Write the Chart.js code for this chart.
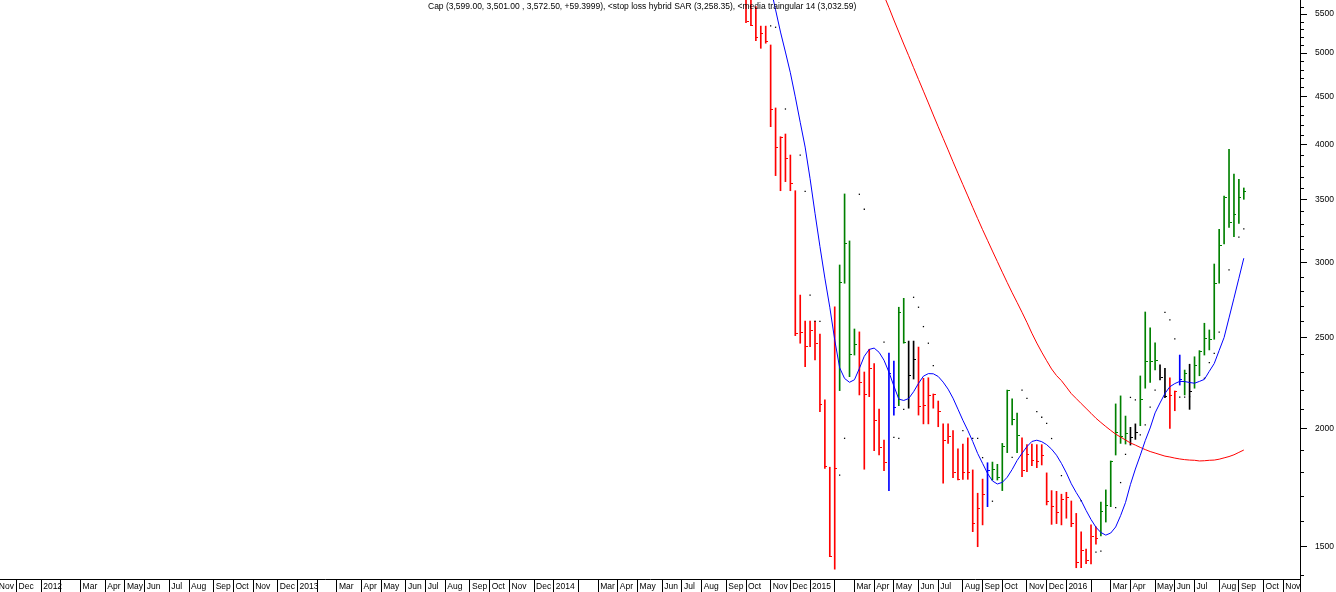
<!DOCTYPE html>
<html>
<head>
<meta charset="utf-8">
<script src="https://cdn.jsdelivr.net/npm/chart.js@4.4.0/dist/chart.umd.min.js"></script>
<style>
  html, body { margin: 0; padding: 0; background: #fff; }
</style>
</head>
<body>
<canvas id="chart" width="1336" height="592"></canvas>
<script>
// weekly bars, one every Friday starting here
const firstWeek = '2014-10-03';

const highs = [5750, 5720, 5600, 5340, 5340, 5100, 4374, 4078, 4105, 3900,
  3575, 2772, 2602, 2602, 2602, 2521, 2147, 1822, 2694, 2983,
  3547, 3163, 2552, 2534, 2298, 2429, 2345, 2100, 1947, 2407,
  2360, 2691, 2750, 2478, 2478, 2442, 2263, 2266, 2178, 2141,
  2025, 2025, 1992, 1905, 1928, 1957, 1810, 1710, 1770, 1842,
  1845, 1835, 1931, 2199, 2152, 2079, 1957, 1925, 1928, 1925,
  1925, 1797, 1721, 1718, 1706, 1714, 1678, 1628, 1556, 1492,
  1583, 1576, 1674, 1724, 1850, 2126, 2168, 2064, 2008, 2025,
  2276, 2660, 2560, 2468, 2338, 2319, 2266, 2194, 2395, 2309,
  2342, 2385, 2421, 2588, 2546, 2990, 3254, 3529, 3955, 3724,
  3676, 3599];

const lows = [5385, 5346, 5154, 5059, 5122, 4179, 3709, 3575, 3655, 3575,
  2511, 2465, 2328, 2444, 2367, 2086, 1817, 1465, 1421, 2196,
  2853, 2272, 2395, 2173, 1813, 2164, 1897, 1877, 1807, 1721,
  2069, 2117, 2465, 2104, 2259, 2069, 2025, 2025, 2104, 2011,
  1752, 1931, 1776, 1766, 1769, 1769, 1557, 1501, 1583, 1655,
  1766, 1766, 1721, 1888, 2020, 1888, 1780, 1802, 1829, 1820,
  1832, 1662, 1585, 1588, 1583, 1609, 1576, 1426, 1426, 1440,
  1439, 1510, 1541, 1594, 1655, 1877, 1931, 1928, 1923, 1950,
  2016, 2209, 2241, 2309, 2254, 2159, 2003, 2091, 2226, 2173,
  2098, 2209, 2277, 2395, 2425, 2489, 2853, 3140, 3270, 3196,
  3302, 3501];

const closes = [5400, 5350, 5200, 5248, 5141, 4363, 3970, 4068, 3865, 3640,
  2525, 2532, 2448, 2544, 2465, 2124, 1827, 1467, 1817, 2860,
  3140, 2401, 2460, 2239, 2177, 2315, 2044, 1913, 1845, 2287,
  2107, 2658, 2468, 2276, 2370, 2115, 2120, 2168, 2173, 2088,
  1946, 1963, 1800, 1769, 1800, 1798, 1589, 1648, 1703, 1807,
  1814, 1778, 1916, 2198, 2048, 1968, 1808, 1880, 1853, 1847,
  1874, 1674, 1655, 1632, 1686, 1693, 1589, 1443, 1489, 1453,
  1538, 1532, 1635, 1661, 1847, 1982, 1963, 1976, 1961, 1982,
  2147, 2357, 2357, 2366, 2269, 2164, 2168, 2194, 2254, 2291,
  2190, 2332, 2415, 2495, 2485, 2853, 3130, 3515, 3307, 3370,
  3515, 3572.5];

// bar colour state of the hybrid system: r red, g green, k black, b blue
const trend = [...('rrrrrrrrrrrrrrrrrrr' + 'gggg' + 'rrrrrr' + 'bb' + 'gg' + 'kk' +
  'rrrrrrrrrrrrrr' + 'b' + 'gggggg' + 'rrrrrrrrrrrrrrrr' + 'gggggg' + 'kk' +
  'gggg' + 'kk' + 'rr' + 'b' + 'g' + 'k' + 'ggggggggggg')];

const sar = [null, null, null, null, null, 5342, 5325, null, 4363, null,
  null, 3900, 3570, 2771, 2600, 2600, null, null, null, 1787,
  1955, null, null, 3544, 3417, null, null, null, 2471, null,
  1960, 1955, 2098, null, 2757, 2691, 2567, 2465, 2334, null,
  null, null, null, null, 1992, null, 1955, 1955, 1865, null,
  1677, null, null, null, 1866, null, 2199, 2155, null, 2086,
  2058, 2028, 1954, null, 1785, null, null, null, 1679, null,
  null, 1481, 1485, null, null, 1651, 1755, 1880, 2160, 2147,
  1971, 2020, 2110, 2199, null, 2658, 2609, 2491, 2161, 2161,
  2164, null, null, 2263, 2351, 2405, 2532, null, 2947, null,
  3192, 3258.35];

const triMa14 = [null, null, null, 6540, 6193, 5869, 5556, 5263, 5013, 4766,
  4494, 4224, 3976, 3681, 3384, 3121, 2889, 2691, 2485, 2322,
  2262, 2241, 2255, 2318, 2388, 2428, 2436, 2411, 2365, 2297,
  2221, 2151, 2144, 2154, 2190, 2235, 2275, 2289, 2288, 2273,
  2242, 2204, 2156, 2099, 2043, 1993, 1940, 1884, 1839, 1795,
  1762, 1749, 1756, 1778, 1812, 1852, 1885, 1916, 1940, 1946,
  1939, 1925, 1904, 1876, 1839, 1797, 1750, 1713, 1680, 1640,
  1604, 1574, 1554, 1544, 1552, 1575, 1619, 1672, 1747, 1814,
  1876, 1944, 2005, 2080, 2131, 2181, 2217, 2234, 2246, 2245,
  2240, 2236, 2246, 2257, 2302, 2346, 2422, 2500, 2622, 2751,
  2888, 3032.59];

const slowMa = [null, null, null, null, null, null, null, null, null, null,
  null, null, null, null, null, null, null, null, null, null,
  null, null, null, null, null, null, 6102, 5925, 5752, 5587,
  5420, 5264, 5112, 4969, 4826, 4689, 4557, 4428, 4300, 4178,
  4062, 3949, 3837, 3731, 3629, 3530, 3433, 3340, 3251, 3168,
  3086, 3008, 2931, 2858, 2788, 2723, 2658, 2593, 2526, 2466,
  2412, 2362, 2315, 2278, 2250, 2215, 2180, 2154, 2128, 2103,
  2078, 2053, 2032, 2012, 1993, 1975, 1961, 1947, 1933, 1923,
  1912, 1902, 1893, 1886, 1879, 1872, 1868, 1863, 1859, 1856,
  1854, 1853, 1850, 1851, 1853, 1854, 1858, 1864, 1870, 1878,
  1889, 1900];

const yTicks = [1500, 2000, 2500, 3000, 3500, 4000, 4500, 5000, 5500];
// January shows the year, February is left blank
const monthTickLabels = ['', '', 'Mar', 'Apr', 'May', 'Jun', 'Jul', 'Aug', 'Sep', 'Oct', 'Nov', 'Dec'];
const titleText = 'Cap (3,599.00, 3,501.00 , 3,572.50, +59.3999), <stop loss hybrid SAR (3,258.35), <media traingular 14 (3,032.59)';

const DAY = 86400000;
const dayOf = s => Date.parse(s + 'T00:00:00Z') / DAY;
const start = dayOf(firstWeek);
const weekX = highs.map((_, i) => start + 7 * i);

const xMin = 15286.5;
const xMax = 17132.8;
const yMin = 1387.4;
const yMax = 5691;

const palette = { r: '#ff0000', g: '#008000', k: '#000000', b: '#0000ff' };
const barColors = trend.map(t => palette[t]);

// one tick per month, on the first Friday (first weekly bar) of the month
const xTickValues = [];
const xTickLabels = [];
for (let y = 2011, m = 10; y < 2016 || (y === 2016 && m <= 10); m++) {
  if (m === 12) { m = 0; y++; }
  const d = Date.UTC(y, m, 1);
  const dow = new Date(d).getUTCDay();
  xTickValues.push(d / DAY + (5 - dow + 7) % 7);
  xTickLabels.push(m === 0 ? String(y) : monthTickLabels[m]);
}
xTickValues.push(xMax);
xTickLabels.push('');

// small right-hand close ticks
function closeMark(color) {
  const c = document.createElement('canvas');
  c.width = 5;
  c.height = 1;
  const g = c.getContext('2d');
  g.fillStyle = color;
  g.fillRect(3, 0, 2, 1);
  return c;
}
const closeMarks = {};
Object.keys(palette).forEach(k => { closeMarks[k] = closeMark(palette[k]); });

const font = { family: '"Liberation Sans", Arial, sans-serif', size: 8.5 };

const overlay = {
  id: 'overlay',
  beforeDatasetsDraw(chart) {
    chart.ctx.imageSmoothingEnabled = false;
  },
  afterDraw(chart) {
    const ctx = chart.ctx;
    const ys = chart.scales.y;
    ctx.save();
    // minor ticks every 100 on the price axis
    ctx.strokeStyle = '#000';
    ctx.lineWidth = 1;
    ctx.beginPath();
    for (let v = 1400; v <= 5600; v += 100) {
      if (v % 500 === 0) continue;
      const py = Math.round(ys.getPixelForValue(v)) + 0.5;
      ctx.moveTo(ys.left, py);
      ctx.lineTo(ys.left + 4, py);
    }
    ctx.stroke();
    ctx.fillStyle = '#000';
    ctx.font = '8.5px "Liberation Sans", Arial, sans-serif';
    ctx.textAlign = 'left';
    ctx.textBaseline = 'middle';
    ctx.fillText(titleText, 428, 7);
    ctx.restore();
  }
};

new Chart(document.getElementById('chart'), {
  type: 'bar',
  data: {
    datasets: [
      {
        type: 'line',
        data: triMa14.map((v, i) => ({ x: weekX[i], y: v })),
        borderColor: '#0000ff',
        borderWidth: 1,
        pointRadius: 0,
        spanGaps: false,
        order: 0
      },
      {
        type: 'line',
        data: slowMa.map((v, i) => ({ x: weekX[i], y: v })),
        borderColor: '#ff0000',
        borderWidth: 1,
        pointRadius: 0,
        spanGaps: false,
        order: 1
      },
      {
        type: 'scatter',
        data: sar.map((v, i) => ({ x: weekX[i], y: v })),
        pointStyle: 'rect',
        pointRadius: 0.9,
        borderWidth: 0,
        backgroundColor: '#000',
        order: 2
      },
      {
        type: 'scatter',
        data: closes.map((v, i) => ({ x: weekX[i], y: v })),
        pointStyle: ctx => closeMarks[trend[ctx.dataIndex]],
        pointRadius: 1,
        borderWidth: 0,
        order: 3
      },
      {
        type: 'bar',
        data: highs.map((h, i) => ({ x: weekX[i], y: [lows[i], h] })),
        backgroundColor: barColors,
        borderWidth: 0,
        barThickness: 1,
        order: 4
      }
    ]
  },
  options: {
    responsive: false,
    animation: false,
    events: [],
    layout: { padding: 0, autoPadding: false },
    plugins: {
      legend: { display: false },
      tooltip: { enabled: false },
      title: { display: false }
    },
    scales: {
      x: {
        type: 'linear',
        min: xMin,
        max: xMax,
        offset: false,
        grid: { drawOnChartArea: false, tickLength: 13, color: '#000', offset: false },
        border: { color: '#000' },
        ticks: {
          autoSkip: false,
          maxRotation: 0,
          minRotation: 0,
          align: 'start',
          labelOffset: 2,
          padding: -10,
          color: '#000',
          font: font,
          callback: (v, i) => xTickLabels[i]
        },
        afterBuildTicks: s => { s.ticks = xTickValues.map(v => ({ value: v })); },
        afterFit: s => { s.height = 13; s.paddingLeft = 0; s.paddingRight = 0; }
      },
      y: {
        type: 'logarithmic',
        position: 'right',
        min: yMin,
        max: yMax,
        grid: { drawOnChartArea: false, tickLength: 7, color: '#000' },
        border: { color: '#000' },
        ticks: {
          autoSkip: false,
          padding: 8,
          color: '#000',
          font: font,
          callback: v => String(v)
        },
        afterBuildTicks: s => { s.ticks = yTicks.map(v => ({ value: v })); },
        afterFit: s => { s.width = 36; s.paddingTop = 0; s.paddingBottom = 0; }
      }
    }
  },
  plugins: [overlay]
});
</script>
</body>
</html>
